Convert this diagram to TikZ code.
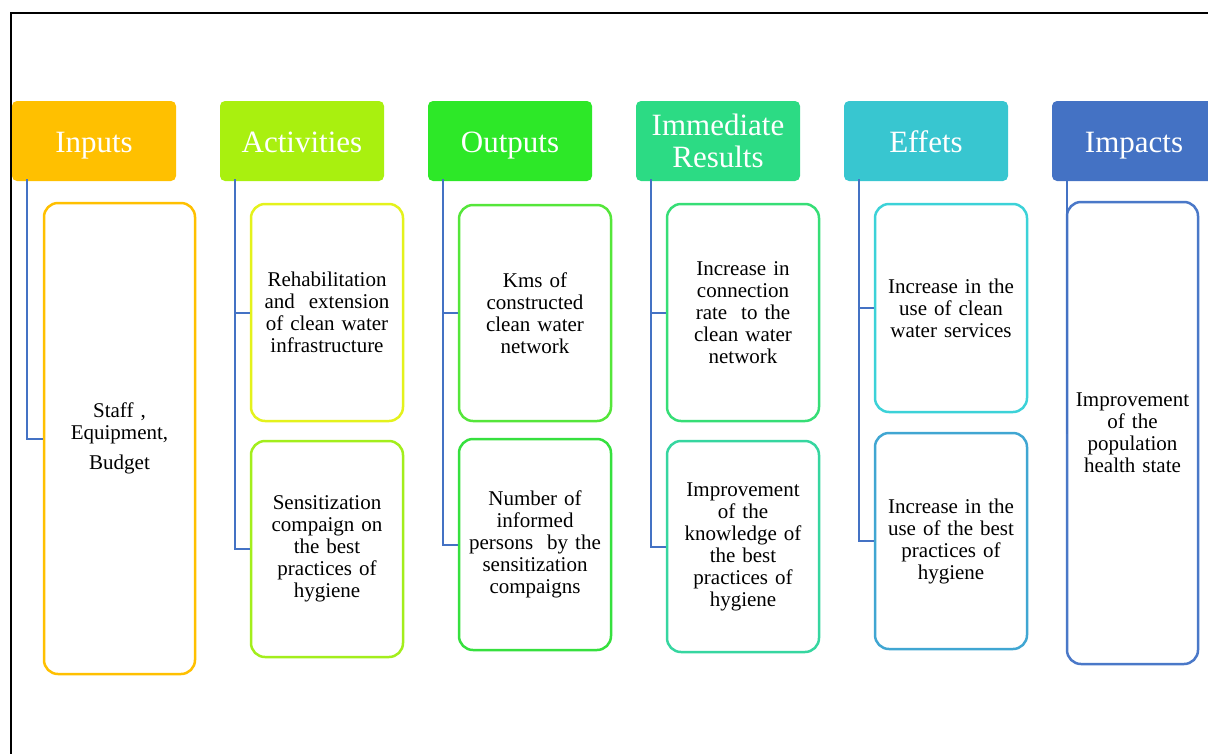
\documentclass[tikz,border=0pt]{standalone}
\usepackage{fontspec}
\setmainfont{Liberation Serif}
\usetikzlibrary{calc}

% column colours
\definecolor{cInputs}{HTML}{FFC000}
\definecolor{cActiv}{HTML}{A9F00F}
\definecolor{cActivA}{HTML}{E4F21C}
\definecolor{cActivB}{HTML}{A3EE1C}
\definecolor{cOutputs}{HTML}{2DE828}
\definecolor{cOutA}{HTML}{55E63A}
\definecolor{cOutB}{HTML}{36E03E}
\definecolor{cImmed}{HTML}{2CDB84}
\definecolor{cImmA}{HTML}{36DE76}
\definecolor{cImmB}{HTML}{36D6A0}
\definecolor{cEffets}{HTML}{38C6D0}
\definecolor{cEffA}{HTML}{3CD2D8}
\definecolor{cEffB}{HTML}{40A6D2}
\definecolor{cImpacts}{HTML}{4472C4}
\definecolor{cImpA}{HTML}{4A78C8}
\definecolor{cLink}{HTML}{4472C4}

\begin{document}
\begin{tikzpicture}[x=1pt,y=-1pt,
  head/.style={rectangle,rounded corners=5pt,minimum width=164pt,minimum height=80pt,
    inner sep=0pt,text=white,align=center,text height=22pt,text depth=0pt,
    font=\fontsize{31}{32}\selectfont},
  item/.style={rectangle,rounded corners=14pt,line width=2.5pt,fill=white,inner sep=0pt,
    text width=140pt,align=center,font=\fontsize{21}{22}\selectfont},
  link/.style={draw=cLink,line width=2pt}]

\useasboundingbox (0,0) rectangle (1208,753);
\draw[line width=2pt] (10.5,760) -- (10.5,12.5) -- (1215,12.5);

% headers
\node[head,fill=cInputs]  (inputs)  at (94,141)  {Inputs};
\node[head,fill=cActiv]   (activ)   at (302,141) {Activities};
\node[head,fill=cOutputs] (outputs) at (510,141) {Outputs};
\node[head,fill=cImmed,text height=,text depth=] (immed) at (718,141) {Immediate\\Results};
\node[head,fill=cEffets]  (effets)  at (926,141) {Effets};
\node[head,fill=cImpacts] (impacts) at (1134,141) {Impacts};

% boxes under each header
\node[item,draw=cInputs,minimum width=151pt,minimum height=471pt] (inp) at (119.5,438.5)
  {Staff ,\\ Equipment,\\[8pt] Budget};

\node[item,draw=cActivA,minimum width=152pt,minimum height=217pt] (act1) at (327,312.5)
  {Rehabilitation\\ and\ \ extension\\ of clean water\\ infrastructure};
\node[item,draw=cActivB,minimum width=152pt,minimum height=216pt] (act2) at (327,549)
  {Sensitization\\ compaign on\\ the best\\ practices of\\ hygiene};

\node[item,draw=cOutA,minimum width=152pt,minimum height=216pt] (out1) at (535,313)
  {Kms of\\ constructed\\ clean water\\ network};
\node[item,draw=cOutB,minimum width=152pt,minimum height=211pt] (out2) at (535,544.5)
  {Number of\\ informed\\ persons\ \ by the\\ sensitization\\ compaigns};

\node[item,draw=cImmA,minimum width=152pt,minimum height=217pt] (imm1) at (743,312.5)
  {Increase in\\ connection\\ rate\ \ to the\\ clean water\\ network};
\node[item,draw=cImmB,minimum width=152pt,minimum height=211pt] (imm2) at (743,546.5)
  {Improvement\\ of the\\ knowledge of\\ the best\\ practices of\\ hygiene};

\node[item,draw=cEffA,minimum width=152pt,minimum height=208pt] (eff1) at (951,308)
  {Increase in the\\ use of clean\\ water services};
\node[item,draw=cEffB,minimum width=152pt,minimum height=216pt] (eff2) at (951,541)
  {Increase in the\\ use of the best\\ practices of\\ hygiene};

\node[item,draw=cImpA,text width=120pt,minimum width=131pt,minimum height=462pt] (imp) at (1132.5,433)
  {Improvement\\ of the\\ population\\ health state};

% links from headers
\draw[link] ($(inputs.south west)+(15,-2)$) |- (inp.west);
\draw[link] ($(activ.south west)+(15,-2)$) |- (act2.west);
\draw[link] ($(activ.south west)+(15,0)$) |- (act1.west);
\draw[link] ($(outputs.south west)+(15,-2)$) |- (out2.west);
\draw[link] ($(outputs.south west)+(15,0)$) |- (out1.west);
\draw[link] ($(immed.south west)+(15,-2)$) |- (imm2.west);
\draw[link] ($(immed.south west)+(15,0)$) |- (imm1.west);
\draw[link] ($(effets.south west)+(15,-2)$) |- (eff2.west);
\draw[link] ($(effets.south west)+(15,0)$) |- (eff1.west);
\draw[link] ($(impacts.south west)+(15,-2)$) |- (imp.west);

\end{tikzpicture}
\end{document}
